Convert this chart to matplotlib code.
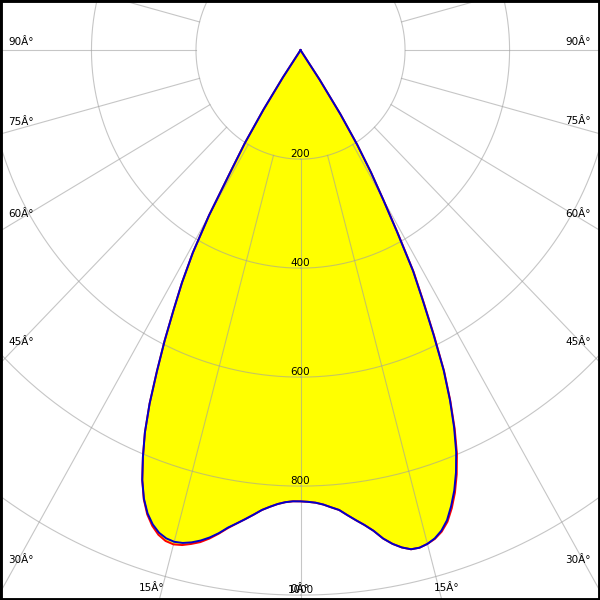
import matplotlib
matplotlib.use("Agg")
import matplotlib.pyplot as plt
import numpy as np

# polar intensity diagram, angles measured from nadir (straight down), 1 deg steps
gamma = list(range(0, 36))
# C0 / C180 plane (blue), right and left half
c0 = [828, 829, 831, 835, 841, 847, 858, 869, 880, 893,
      910, 923, 933, 940, 941, 938, 932, 922, 907, 885,
      860, 830, 795, 752, 703, 648, 580, 515, 458, 380,
      315, 262, 205, 140, 65, 0]
c180 = [828, 828, 830, 834, 840, 847, 857, 867, 877, 887,
        900, 911, 920, 927, 932, 934, 932, 926, 915, 899,
        876, 845, 805, 762, 710, 650, 593, 535, 483, 425,
        350, 258, 200, 130, 60, 0]
# C90 / C270 plane (red)
c90 = [828, 829, 831, 835, 841, 847, 858, 869, 880, 893,
       910, 923, 933, 940, 941, 938, 933, 924, 910, 889,
       864, 834, 799, 755, 705, 650, 583, 518, 461, 383,
       316, 262, 205, 140, 65, 0]
c270 = [828, 828, 830, 834, 840, 847, 857, 867, 877, 888,
        901, 913, 923, 930, 936, 939, 937, 930, 918, 901,
        877, 845, 805, 762, 710, 650, 593, 535, 483, 425,
        350, 258, 200, 130, 60, 0]

rings = [200, 400, 600, 800, 1000]
ring_labels = ['200', '400', '600', '800', '1000']
spokes = list(range(0, 360, 15))

# angle labels (text, x px, y px)
angle_labels = [('90Â°', 21, 42), ('75Â°', 21, 122), ('60Â°', 21, 214),
                ('45Â°', 21, 342), ('30Â°', 21, 560), ('15Â°', 152, 588),
                ('90Â°', 578, 42), ('75Â°', 578, 121), ('60Â°', 578, 214),
                ('45Â°', 578, 342), ('30Â°', 578, 560), ('15Â°', 447, 588),
                ('0Â°', 300, 589)]


def outline(right, left):
    g = np.radians(gamma)
    rr = np.array(right, dtype=float)
    rl = np.array(left, dtype=float)
    x = np.concatenate([(rr * np.sin(g))[::-1], -(rl * np.sin(g))[1:]])
    y = np.concatenate([(-rr * np.cos(g))[::-1], (-rl * np.cos(g))[1:]])
    return x, y


fig = plt.figure(figsize=(6, 6), dpi=100)
ax = fig.add_axes([0, 0, 1, 1])
ax.set_xlim(-575, 573)
ax.set_ylim(-1009, 92)
ax.set_xticks([])
ax.set_yticks([])
for sp in ax.spines.values():
    sp.set_color('black')
    sp.set_linewidth(3.5)

xb, yb = outline(c0, c180)
xr, yr = outline(c90, c270)
ax.fill(xr, yr, color='#ffff00', zorder=1, lw=0)
ax.fill(xb, yb, color='#ffff00', zorder=1, lw=0)

# grid
t = np.linspace(0, 2 * np.pi, 721)
for r in rings:
    ax.plot(r * np.sin(t), -r * np.cos(t), color='#a0a0a0', alpha=0.6, lw=0.8, zorder=2)
for a in spokes:
    ar = np.radians(a)
    ax.plot([200 * np.sin(ar), 1400 * np.sin(ar)], [-200 * np.cos(ar), -1400 * np.cos(ar)],
            color='#a0a0a0', alpha=0.6, lw=0.8, zorder=2)

ax.plot(xr, yr, color='#ff0000', lw=1.4, zorder=3, solid_joinstyle='round')
ax.plot(xb, yb, color='#0000cc', lw=1.4, zorder=4, solid_joinstyle='round')

for r, lab in zip(rings, ring_labels):
    ax.text(0, -r + 4, lab, ha='center', va='baseline', fontsize=7.5, color='black', zorder=5)

for lab, px, py in angle_labels:
    ax.text(px / 600, 1 - py / 600, lab, transform=ax.transAxes, ha='center', va='center',
            fontsize=7.5, color='black', zorder=5)

fig.savefig('out.png', dpi=100)
